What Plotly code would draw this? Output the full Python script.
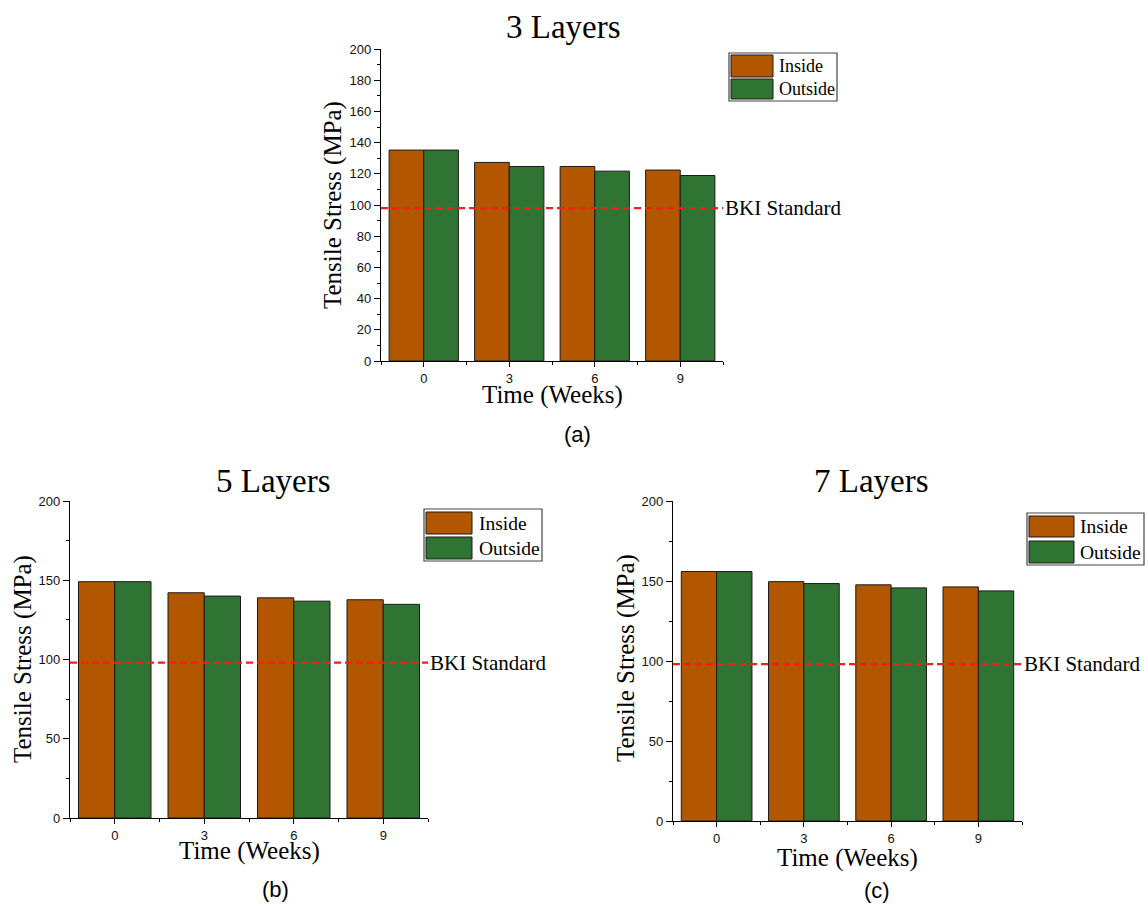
import plotly.graph_objects as go

# ---------------- data ----------------
weeks = [0, 3, 6, 9]
inside_3 = [135.2, 127.3, 124.7, 122.4]
outside_3 = [135.2, 124.7, 121.7, 118.9]
inside_5 = [149.1, 142.1, 138.9, 137.7]
outside_5 = [149.1, 140.0, 136.8, 134.8]
inside_7 = [155.9, 149.6, 147.6, 146.3]
outside_7 = [155.9, 148.4, 145.7, 143.8]
bki_standard = 98
series_names = ["Inside", "Outside"]
panel_titles = ["3 Layers", "5 Layers", "7 Layers"]
panel_labels = ["(a)", "(b)", "(c)"]

# ---------------- style ----------------
W, H = 1148, 904
C_IN = "#B25700"
C_OUT = "#307433"
SERIF = "Times New Roman, Liberation Serif, serif"
SANS = "Arial, Liberation Sans, sans-serif"


def px(x):
    return x / W


def py(y):
    return 1 - y / H


fig = go.Figure()

panels = [
    dict(ax="", ins=inside_3, outs=outside_3, xd=(381, 723), yd=(49, 361), dt=20, mdt=10,
         title_xy=(563, 27), ytitle_xy=(333, 205), xtitle_xy=(552, 395), lab_xy=(577, 435),
         leg=dict(box=(729, 53, 837, 101), sw=[(731, 55, 773, 77), (731, 79, 773, 99)], tx=777, fs=18)),
    dict(ax="2", ins=inside_5, outs=outside_5, xd=(70, 428), yd=(501, 818), dt=50, mdt=25,
         title_xy=(273, 481), ytitle_xy=(23, 659), xtitle_xy=(249, 851), lab_xy=(275, 889),
         leg=dict(box=(424, 509, 542, 561), sw=[(426, 512, 472, 534), (426, 537, 472, 559)], tx=477, fs=19.5)),
    dict(ax="3", ins=inside_7, outs=outside_7, xd=(673, 1022), yd=(501, 821), dt=50, mdt=25,
         title_xy=(871, 481), ytitle_xy=(626, 658), xtitle_xy=(847, 858), lab_xy=(877, 890),
         leg=dict(box=(1027, 513, 1144, 565), sw=[(1029, 516, 1074, 537), (1029, 541, 1074, 563)], tx=1078, fs=19.5)),
]

shapes = []
annotations = []

for i, p in enumerate(panels):
    xa = "x" + p["ax"]
    ya = "y" + p["ax"]
    for name, vals, col in [(series_names[0], p["ins"], C_IN), (series_names[1], p["outs"], C_OUT)]:
        fig.add_trace(go.Bar(
            x=weeks, y=vals, name=name, xaxis=xa, yaxis=ya,
            marker=dict(color=col, line=dict(color="#1a1a1a", width=1)),
            showlegend=False,
        ))

    axis_common = dict(
        showgrid=False, zeroline=False, showline=True, linecolor="black", linewidth=1.4,
        ticks="outside", tickcolor="black", tickwidth=1.2, automargin=False,
        tickfont=dict(family=SANS, size=13, color="#111"),
    )
    fig.update_layout(**{
        ("xaxis" + p["ax"]): dict(
            axis_common, domain=[px(p["xd"][0]), px(p["xd"][1])],
            anchor=ya, range=[-1.5, 10.5], tickvals=weeks, ticktext=[str(w) for w in weeks],
            ticklen=5, ticklabelstandoff=0,
            minor=dict(tick0=-1.5, dtick=3, ticks="outside", ticklen=3, tickcolor="black", tickwidth=1.2),
            fixedrange=True,
        ),
        ("yaxis" + p["ax"]): dict(
            axis_common, domain=[py(p["yd"][1]), py(p["yd"][0])],
            anchor=xa, range=[0, 200], dtick=p["dt"], tick0=0, ticklen=6, ticklabelstandoff=0,
            minor=dict(dtick=p["mdt"], ticks="outside", ticklen=3, tickcolor="black", tickwidth=1.2),
            fixedrange=True,
        ),
    })

    xdom = ("x" + p["ax"] + " domain") if p["ax"] else "x domain"
    shapes.append(dict(type="line", xref=xdom, yref=ya, x0=0, x1=1,
                       y0=bki_standard, y1=bki_standard,
                       line=dict(color="#FF1A1A", width=2.2, dash="7px,4px"), layer="above"))
    annotations.append(dict(xref=xdom, yref=ya, x=1, y=bki_standard, xanchor="left", yanchor="middle",
                            text="BKI Standard", showarrow=False, xshift=0,
                            font=dict(family=SERIF, size=21, color="black")))
    annotations.append(dict(xref="paper", yref="paper", x=px(p["title_xy"][0]), y=py(p["title_xy"][1]),
                            xanchor="center", yanchor="middle", text=panel_titles[i], showarrow=False,
                            font=dict(family=SERIF, size=33, color="black")))
    annotations.append(dict(xref="paper", yref="paper", x=px(p["ytitle_xy"][0]), y=py(p["ytitle_xy"][1]),
                            xanchor="center", yanchor="middle", text="Tensile Stress (MPa)", textangle=-90,
                            showarrow=False, font=dict(family=SERIF, size=25, color="black")))
    annotations.append(dict(xref="paper", yref="paper", x=px(p["xtitle_xy"][0]), y=py(p["xtitle_xy"][1]),
                            xanchor="center", yanchor="middle", text="Time (Weeks)",
                            showarrow=False, font=dict(family=SERIF, size=25, color="black")))
    annotations.append(dict(xref="paper", yref="paper", x=px(p["lab_xy"][0]), y=py(p["lab_xy"][1]),
                            xanchor="center", yanchor="middle", text=panel_labels[i],
                            showarrow=False, font=dict(family=SANS, size=22, color="black")))
    lg = p["leg"]
    bx = lg["box"]
    shapes.append(dict(type="rect", xref="paper", yref="paper", x0=px(bx[0]), x1=px(bx[2]),
                       y0=py(bx[3]), y1=py(bx[1]), line=dict(color="#444", width=1.2),
                       fillcolor="white", layer="above"))
    for (sx0, sy0, sx1, sy1), col, name in zip(lg["sw"], [C_IN, C_OUT], series_names):
        shapes.append(dict(type="rect", xref="paper", yref="paper", x0=px(sx0), x1=px(sx1),
                           y0=py(sy1), y1=py(sy0), line=dict(color="#1a1a1a", width=1),
                           fillcolor=col, layer="above"))
        annotations.append(dict(xref="paper", yref="paper", x=px(lg["tx"]), y=py((sy0 + sy1) / 2),
                                xanchor="left", yanchor="middle", text=name, showarrow=False,
                                font=dict(family=SERIF, size=lg["fs"], color="black")))

fig.update_layout(
    width=W, height=H, margin=dict(l=0, r=0, t=0, b=0, autoexpand=False),
    paper_bgcolor="white", plot_bgcolor="white",
    barmode="group", bargap=0.19, bargroupgap=0,
    shapes=shapes, annotations=annotations, showlegend=False,
)

fig.write_html(
    "out.html",
    config=dict(displayModeBar=False),
    post_script="document.body.style.margin='0';document.body.style.padding='0';"
                "document.body.style.overflow='hidden';document.documentElement.style.overflow='hidden';",
)
